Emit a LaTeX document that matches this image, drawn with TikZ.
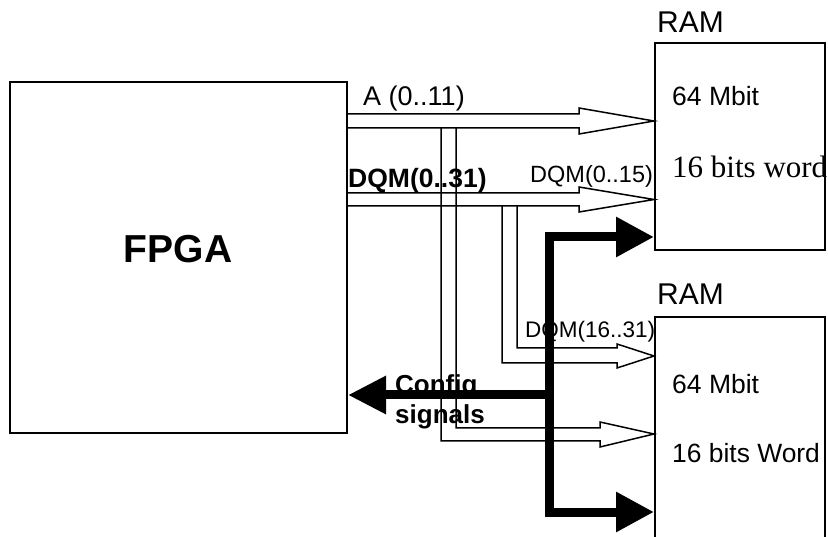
\documentclass[tikz,border=0pt]{standalone}
\usepackage{fontspec}
\setmainfont{Liberation Sans}
\newfontfamily\serifface{Liberation Serif}
\usetikzlibrary{arrows.meta}
\begin{document}
\begin{tikzpicture}[x=1pt,y=-1pt,
  box/.style={draw, line width=2pt, inner sep=0pt, rectangle},
  hollow/.style={draw, line width=1.5pt, line join=miter},
  txt/.style={inner sep=0pt, anchor=base west},
  fatbus/.style={line width=9pt, line join=miter}]
\useasboundingbox (0,0) rectangle (828,537);
% boxes
\node[box, minimum width=337pt, minimum height=351pt] (fpga) at (178.5,257.5) {};
\node[box, minimum width=170pt, minimum height=207pt] (ram1) at (740,146.5) {};
\node[box, minimum width=170pt, minimum height=243pt] (ram2) at (740,438.5) {};
% texts
\node[txt, anchor=base, font=\fontsize{39pt}{44pt}\selectfont\bfseries] (fpgatxt) at (178,263) {FPGA};
\node[txt, font=\fontsize{30pt}{34pt}\selectfont] (ram1lbl) at (657,33) {RAM};
\node[txt, font=\fontsize{30pt}{34pt}\selectfont] (ram2lbl) at (657,305) {RAM};
\node[txt, font=\fontsize{26.5pt}{30pt}\selectfont] (ram1size) at (672,106) {64 Mbit};
\node[txt, font=\fontsize{26.5pt}{30pt}\selectfont] (ram2size) at (672,394) {64 Mbit};
\node[txt, font=\fontsize{31pt}{36pt}\selectfont\serifface] (ram1word) at (672,178) {16 bits word};
\node[txt, font=\fontsize{26.4pt}{30pt}\selectfont] (ram2word) at (672,462) {16 bits Word};
\node[txt, font=\fontsize{27pt}{30pt}\selectfont] (lblA) at (363,106) {A (0..11)};
\node[txt, font=\fontsize{26.5pt}{30pt}\selectfont\bfseries] (lbldqm) at (348,188) {DQM(0..31)};
\node[txt, font=\fontsize{23.5pt}{28pt}\selectfont] (lbldqma) at (530,183) {DQM(0..15)};
\node[txt, font=\fontsize{22.5pt}{27pt}\selectfont] (lbldqmb) at (525,338) {DQM(16..31)};
\node[inner sep=0pt, anchor=north west, align=left, font=\fontsize{26pt}{30pt}\selectfont\bfseries] (config) at (395,374) {Config\\signals};
% hollow buses
\draw[hollow] (fpga.east |- 0,114) -- (579,114) -- (579,108) -- (ram1.west |- 0,121)
  -- (579,134) -- (579,128) -- (fpga.east |- 0,128);
\draw[hollow] (fpga.east |- 0,193) -- (579,193) -- (579,187) -- (ram1.west |- 0,199.5)
  -- (579,212) -- (579,206) -- (fpga.east |- 0,206);
\draw[hollow] (441,128) -- (441,441) -- (600,441) -- (600,447) -- (ram2.west |- 0,434)
  -- (600,422) -- (600,428) -- (456,428) -- (456,128);
\draw[hollow] (502,206) -- (502,363) -- (617,363) -- (617,368) -- (ram2.west |- 0,356)
  -- (617,344) -- (617,348) -- (517,348) -- (517,206);
% thick config bus
\coordinate (bustop) at (549,237);
\coordinate (busmid) at (549,395);
\coordinate (busbot) at (549,512);
\draw[fatbus, {Triangle[length=38pt,width=38pt]}-{Triangle[length=38pt,width=38pt]}]
  (bustop -| ram1.west) -- (bustop) -- (busbot) -- (busbot -| ram2.west);
\draw[fatbus, -{Triangle[length=38pt,width=36pt]}] (busmid) -- (busmid -| fpga.east);
\end{tikzpicture}
\end{document}
